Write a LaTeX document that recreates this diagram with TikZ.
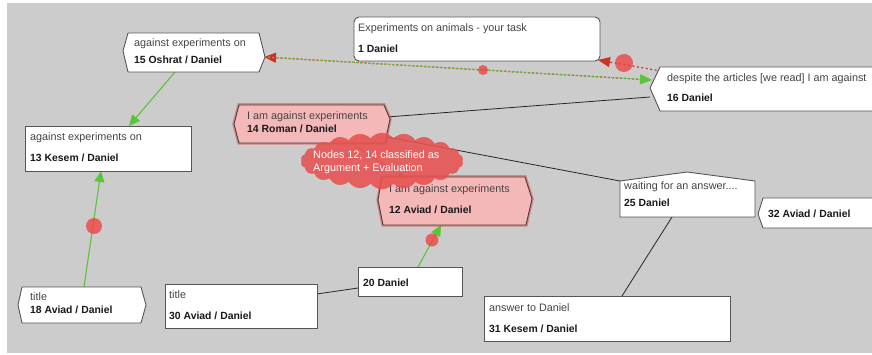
\documentclass[tikz,border=0pt]{standalone}
\usepackage{fontspec}
\setmainfont{Liberation Sans}
\usetikzlibrary{shapes.symbols,arrows.meta}
\definecolor{bgc}{HTML}{CCCCCC}
\definecolor{boxline}{HTML}{555555}
\definecolor{txtgray}{HTML}{444444}
\definecolor{pinkfill}{HTML}{F5B8B8}
\definecolor{glow}{HTML}{E84848}
\definecolor{grn}{HTML}{5CC43A}
\definecolor{redarr}{HTML}{CC3322}
\definecolor{reddot}{HTML}{EE4444}
\definecolor{cloudc}{HTML}{E85050}
\definecolor{orng}{HTML}{C08030}
\begin{document}
\begin{tikzpicture}[x=1pt,y=-1pt,
  box/.style={draw=boxline, fill=white, line width=0.9pt, line join=miter},
  pinkbox/.style={draw=black!75, fill=pinkfill, line width=0.9pt},
  glowline/.style={draw=glow, line width=3.5pt, opacity=0.55},
  lbl/.style={anchor=base west, inner sep=0pt, text=txtgray, font=\fontsize{10.8}{12}\selectfont},
  nm/.style={anchor=base west, inner sep=0pt, text=black!90, font=\fontsize{10.4}{12}\selectfont\bfseries},
  garrow/.style={draw=grn, line width=1.1pt, -{Triangle[length=11pt,width=10pt]}},
  plain/.style={draw=black!85, line width=0.8pt},
  dotc/.style={fill=reddot, opacity=0.8},
]
\useasboundingbox (0,0) rectangle (872,355);
\fill[white] (0,0) rectangle (872,355);
\fill[bgc] (7,3) rectangle (872,353);
\clip (0,0) rectangle (872,355);

% ---------- connector end points ----------
\coordinate (c15b) at (175,72);
\coordinate (c13t) at (129,126);
\coordinate (c18t) at (84,287);
\coordinate (c13b) at (101,171);
\coordinate (c20t) at (418,267);
\coordinate (c12b) at (441,225);
\coordinate (c15r) at (264,57);
\coordinate (c16l) at (652,80);
\coordinate (c16a) at (661,71);
\coordinate (c1r) at (598,60);
\coordinate (c14r) at (387,117);
\coordinate (c16b) at (650,97);
\coordinate (c14rb) at (387,137);
\coordinate (c25l) at (620,181);
\coordinate (c14c) at (348,141);
\coordinate (c12t) at (404,177);
\coordinate (c25b) at (672,217);
\coordinate (c31t) at (622,296);
\coordinate (c30r) at (317,294);
\coordinate (c20l) at (358,288);

% ---------- connectors ----------
\draw[plain] (c14r) -- (c16b);
\draw[plain] (c14rb) -- (c25l);
\draw[plain] (c25b) -- (c31t);
\draw[plain] (c30r) -- (c20l);
\draw[garrow] (c15b) -- (c13t);
\draw[garrow] (c18t) -- (c13b);
\draw[garrow] (c20t) -- (c12b);
\draw[draw=orng, line width=0.8pt, -{Triangle[length=6pt,width=5pt]}] (c14c) -- (c12t);
% 15 <-> 16 double dotted
\draw[draw=redarr, line width=1.2pt, dash pattern=on 2pt off 2pt, dash phase=2pt, -{Triangle[length=12pt,width=10pt]}] (c16l) -- (c15r);
\draw[draw=grn, line width=1.2pt, dash pattern=on 2pt off 2pt, -{Triangle[length=12pt,width=10pt]}] (c15r) -- (c16l);
\draw[draw=redarr, line width=1.2pt, dash pattern=on 2pt off 2.5pt, -{Triangle[length=12pt,width=10pt]}] (c16a) -- (c1r);
% red dots
\fill[dotc] (94,226) circle (8);
\fill[dotc] (432,240) circle (6.5);
\fill[dotc] (483,70) circle (5);
\fill[dotc] (624,63) circle (9);

% ---------- nodes ----------
% 15
\draw[box] (123,51) -- (128,33) -- (259,33) -- (265,57) -- (259,72) -- (128,72) -- cycle;
\node[lbl] (t15) at (134,47) {against experiments on};
\node[nm] (n15) at (134,64) {15 Oshrat / Daniel};
% 13
\draw[box] (25,126) rectangle (191,171);
\node[lbl] (t13) at (30,141) {against experiments on};
\node[nm] (n13) at (30,162) {13 Kesem / Daniel};
% 1
\draw[box, rounded corners=5pt] (354,17) rectangle (600,61);
\node[lbl] (t1) at (358,32) {Experiments on animals - your task};
\node[nm] (n1) at (358,53) {1 Daniel};
% 16
\draw[box] (650,88) -- (660,67) -- (885,67) -- (885,111) -- (660,111) -- cycle;
\node[lbl] (t16) at (667,82) {despite the articles [we read] I am against};
\node[nm] (n16) at (667,102) {16 Daniel};
% 14
\draw[glowline] (234,124) -- (239,105) -- (384,105) -- (390,119) -- (385,143) -- (239,143) -- cycle;
\draw[pinkbox] (234,124) -- (239,105) -- (384,105) -- (390,119) -- (385,143) -- (239,143) -- cycle;
\node[lbl] (t14) at (247,120) {I am against experiments};
\node[nm] (n14) at (247,133) {14 Roman / Daniel};
% 12
\draw[glowline] (378,200) -- (382,177) -- (525,177) -- (532,199) -- (526,225) -- (383,225) -- cycle;
\draw[pinkbox] (378,200) -- (382,177) -- (525,177) -- (532,199) -- (526,225) -- (383,225) -- cycle;
\node[lbl] (t12) at (389,193) {I am against experiments};
\node[nm] (n12) at (389,214) {12 Aviad / Daniel};
% 25
\draw[box] (620,181) -- (687,172) -- (755,181) -- (755,217) -- (620,217) -- cycle;
\node[lbl] (t25) at (624,190) {waiting for an answer....};
\node[nm] (n25) at (624,207) {25 Daniel};
% 32
\draw[box] (758,214) -- (763,198) -- (885,198) -- (885,228) -- (763,228) -- cycle;
\node[nm] (n32) at (768,218) {32 Aviad / Daniel};
% 18
\draw[box] (18,305) -- (22,287) -- (141,287) -- (146,305) -- (141,323) -- (22,323) -- cycle;
\node[lbl] (t18) at (30,300) {title};
\node[nm] (n18) at (30,313) {18 Aviad / Daniel};
% 30
\draw[box] (165,284) rectangle (317,328);
\node[lbl] (t30) at (169,298) {title};
\node[nm] (n30) at (169,319) {30 Aviad / Daniel};
% 20
\draw[box] (358,267) rectangle (462,296);
\node[nm] (n20) at (363,287) {20 Daniel};
% 31
\draw[box] (484,296) rectangle (730,341);
\node[lbl] (t31) at (489,311) {answer to Daniel};
\node[nm] (n31) at (489,332) {31 Kesem / Daniel};

% ---------- annotation cloud ----------
\node[cloud, cloud puffs=22, cloud puff arc=110, aspect=3.2, fill=cloudc, draw=cloudc, opacity=0.88,
      minimum width=162pt, minimum height=56pt, inner sep=0pt] (cloud) at (382,161) {};
\node[anchor=base west, inner sep=0pt, text=white, font=\fontsize{10.8}{12}\selectfont, align=left] (ctext1) at (313,159) {Nodes 12, 14 classified as};
\node[anchor=base west, inner sep=0pt, text=white, font=\fontsize{10.8}{12}\selectfont, align=left] (ctext2) at (313,172) {Argument + Evaluation};
\end{tikzpicture}
\end{document}
